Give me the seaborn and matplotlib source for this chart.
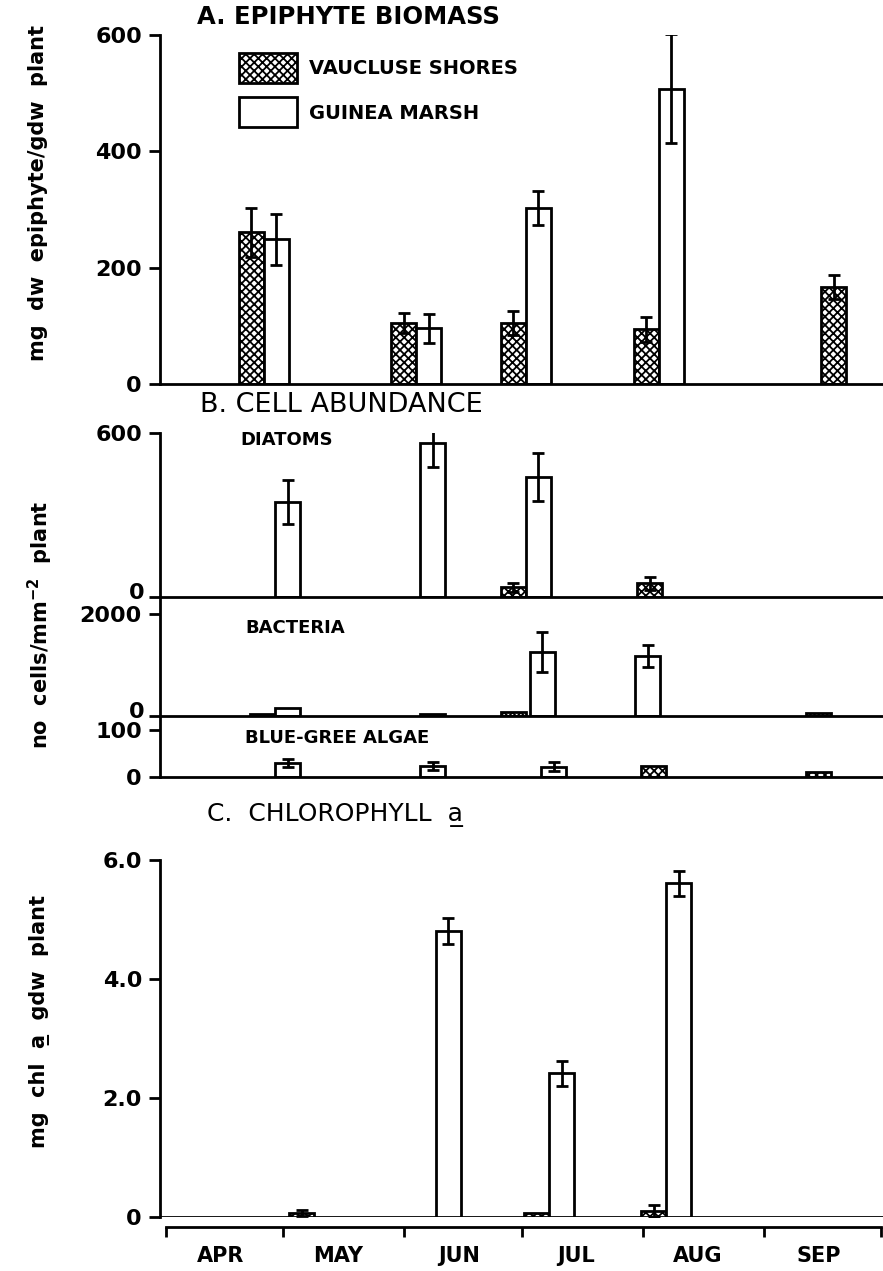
import numpy as np
import pandas as pd
import matplotlib
matplotlib.use('Agg')
import matplotlib.pyplot as plt
import matplotlib.dates as mdates
import matplotlib.transforms as mtransforms
from matplotlib.patches import Patch
import seaborn as sns

# sampling dates (month-day) and values
YEAR = '1985'

# A. epiphyte biomass (mg dw epiphyte / gdw plant)
a_dates = ['04-26', '06-04', '07-02', '08-05', '09-22']
a_vauc = [261, 105, 105, 94, 167]
a_vauc_se = [42, 17, 20, 22, 21]
a_guin = [249, 96, 302, 508, np.nan]
a_guin_se = [44, 25, 29, 94, np.nan]

# B. cell abundance - diatoms
diat_v_dates = ['07-02', '08-06']
diat_v = [35, 50]
diat_v_se = [15, 25]
diat_g_dates = ['04-29', '06-05', '07-02']
diat_g = [348, 564, 440]
diat_g_se = [80, 90, 88]

# bacteria
bact_v_dates = ['04-29', '07-02', '09-18']
bact_v = [30, 80, 50]
bact_v_se = [np.nan, np.nan, np.nan]
bact_g_dates = ['04-29', '06-05', '07-03', '07-30']
bact_g = [150, 40, 1255, 1176]
bact_g_se = [np.nan, np.nan, 390, 225]

# blue-green algae
bg_v_dates = ['08-07', '09-18']
bg_v = [23, 10]
bg_v_se = [np.nan, np.nan]
bg_g_dates = ['04-29', '06-05', '07-06']
bg_g = [30, 23, 22]
bg_g_se = [8, 9, 10]

# C. chlorophyll a (mg chl a / gdw plant)
chl_v_dates = ['05-09', '07-08', '08-07']
chl_v = [0.06, 0.07, 0.10]
chl_v_se = [0.05, np.nan, 0.10]
chl_g_dates = ['06-09', '07-08', '08-07']
chl_g = [4.81, 2.42, 5.61]
chl_g_se = [0.22, 0.21, 0.21]

months = ['APR', 'MAY', 'JUN', 'JUL', 'AUG', 'SEP']

sns.set_style('ticks')
plt.rcParams['font.family'] = ['DejaVu Sans']
plt.rcParams['hatch.linewidth'] = 1.3
plt.rcParams['axes.linewidth'] = 2
for key in ['text.color', 'axes.labelcolor', 'axes.edgecolor', 'xtick.color', 'ytick.color']:
    plt.rcParams[key] = 'black'

W, H = 883, 1271
fig = plt.figure(figsize=(W / 100, H / 100), dpi=100)


def px(x, y):
    return x / W, 1 - y / H


def to_x(dates):
    return mdates.date2num(pd.to_datetime([f'{YEAR}-{d}' for d in dates]))


start = mdates.date2num(pd.Timestamp(f'{YEAR}-04-01'))
X0, X1 = start - 1.5, start + 183.4
BAR_W = 6.4


def add_axes(top, bottom):
    l = 160 / W
    return fig.add_axes([l, 1 - bottom / H, 1 - l, (bottom - top) / H])


def setup(ax, ylim, ticks, labels):
    ax.set_xlim(X0, X1)
    ax.set_ylim(*ylim)
    ax.set_yticks(ticks)
    ax.set_yticklabels(labels, fontsize=16, fontweight='bold')
    ax.tick_params(axis='y', length=8, width=2, direction='out', pad=5)
    ax.tick_params(axis='x', which='both', bottom=False, labelbottom=False)
    sns.despine(ax=ax)
    ax.patch.set_alpha(0)


def lift_zero(ax):
    # the stacked sub-panels print their "0" a little above the tick
    lab = ax.get_yticklabels()[0]
    lab.set_transform(lab.get_transform() +
                      mtransforms.ScaledTranslation(3 / 100, 6 / 100, fig.dpi_scale_trans))


def bars(ax, dates, vals, se, site):
    x = to_x(dates)
    vals = np.asarray(vals, float)
    se = np.asarray(se, float)
    keep = ~np.isnan(vals)
    w = -BAR_W if site == 'V' else BAR_W
    ax.bar(x[keep], vals[keep], width=w, align='edge', facecolor='white',
           edgecolor='black', linewidth=2, hatch='xxxx' if site == 'V' else None,
           zorder=2)
    ok = keep & ~np.isnan(se)
    ax.errorbar(x[ok] + w / 2, vals[ok], yerr=se[ok], fmt='none', ecolor='black',
                elinewidth=2, capsize=4.5, capthick=2, zorder=3)


# panel A
axA = add_axes(35, 384)
setup(axA, (0, 600), [0, 200, 400, 600], ['0', '200', '400', '600'])
bars(axA, a_dates, a_vauc, a_vauc_se, 'V')
bars(axA, a_dates, a_guin, a_guin_se, 'G')
handles = [Patch(facecolor='white', edgecolor='black', hatch='xxxx', linewidth=2),
           Patch(facecolor='white', edgecolor='black', linewidth=2)]
fig.legend(handles, ['VAUCLUSE SHORES', 'GUINEA MARSH'], loc='upper left',
           bbox_to_anchor=px(229, 43), bbox_transform=fig.transFigure,
           frameon=False, borderpad=0, handlelength=3.0, handleheight=2.0,
           labelspacing=0.75, handletextpad=0.6,
           prop={'weight': 'bold', 'size': 14})

# panel B
axD = add_axes(433, 597)
setup(axD, (0, 600), [0, 600], ['0', '600'])
bars(axD, diat_v_dates, diat_v, diat_v_se, 'V')
bars(axD, diat_g_dates, diat_g, diat_g_se, 'G')
lift_zero(axD)

axB = add_axes(597, 716)
setup(axB, (0, 2333), [0, 2000], ['0', '2000'])
bars(axB, bact_v_dates, bact_v, bact_v_se, 'V')
bars(axB, bact_g_dates, bact_g, bact_g_se, 'G')
lift_zero(axB)

axG = add_axes(716, 777)
setup(axG, (0, 130), [0, 100], ['0', '100'])
bars(axG, bg_v_dates, bg_v, bg_v_se, 'V')
bars(axG, bg_g_dates, bg_g, bg_g_se, 'G')

# panel C
axC = add_axes(860, 1217)
setup(axC, (0, 6), [0, 2, 4, 6], ['0', '2.0', '4.0', '6.0'])
bars(axC, chl_v_dates, chl_v, chl_v_se, 'V')
bars(axC, chl_g_dates, chl_g, chl_g_se, 'G')
axC.axhline(0, color='black', lw=2, zorder=1)
month_starts = pd.date_range(f'{YEAR}-04-01', periods=7, freq='MS')
mids = month_starts[:-1] + pd.Timedelta(days=14)
axC.spines['bottom'].set_position(('outward', 7.2))
axC.spines['bottom'].set_bounds(mdates.date2num(month_starts[0]),
                                mdates.date2num(month_starts[-1]))
axC.set_xticks(mdates.date2num(month_starts))
axC.set_xticklabels([''] * 7)
axC.set_xticks(mdates.date2num(mids), minor=True)
axC.set_xticklabels(months, minor=True, fontsize=15, fontweight='bold')
axC.tick_params(axis='x', which='major', bottom=True, length=7, width=2, direction='out')
axC.tick_params(axis='x', which='minor', bottom=True, labelbottom=True, length=0, pad=14)

# titles and labels (U+0332 combining low line underlines the "a")
fig.text(*px(197, 17), 'A. EPIPHYTE BIOMASS', fontsize=17.5, fontweight='bold', va='center')
fig.text(*px(200, 405), 'B. CELL ABUNDANCE', fontsize=19.5, va='center')
fig.text(*px(207, 815), 'C.  CHLOROPHYLL  a\u0332', fontsize=18, va='center')
fig.text(*px(240, 440), 'DIATOMS', fontsize=13, fontweight='bold', va='center')
fig.text(*px(245, 628), 'BACTERIA', fontsize=13, fontweight='bold', va='center')
fig.text(*px(245, 738), 'BLUE-GREE ALGAE', fontsize=13, fontweight='bold', va='center')

fig.text(*px(38, 193), 'mg  dw  epiphyte/gdw  plant', rotation=90, fontsize=15,
         fontweight='bold', ha='center', va='center')
fig.text(*px(40, 625), r'no  cells/mm$^{\mathbf{-2}}$  plant', rotation=90, fontsize=15,
         fontweight='bold', ha='center', va='center')
fig.text(*px(40, 1021), 'mg  chl  a\u0332  gdw  plant', rotation=90, fontsize=15,
         fontweight='bold', ha='center', va='center')

fig.savefig('out.png', dpi=100)
